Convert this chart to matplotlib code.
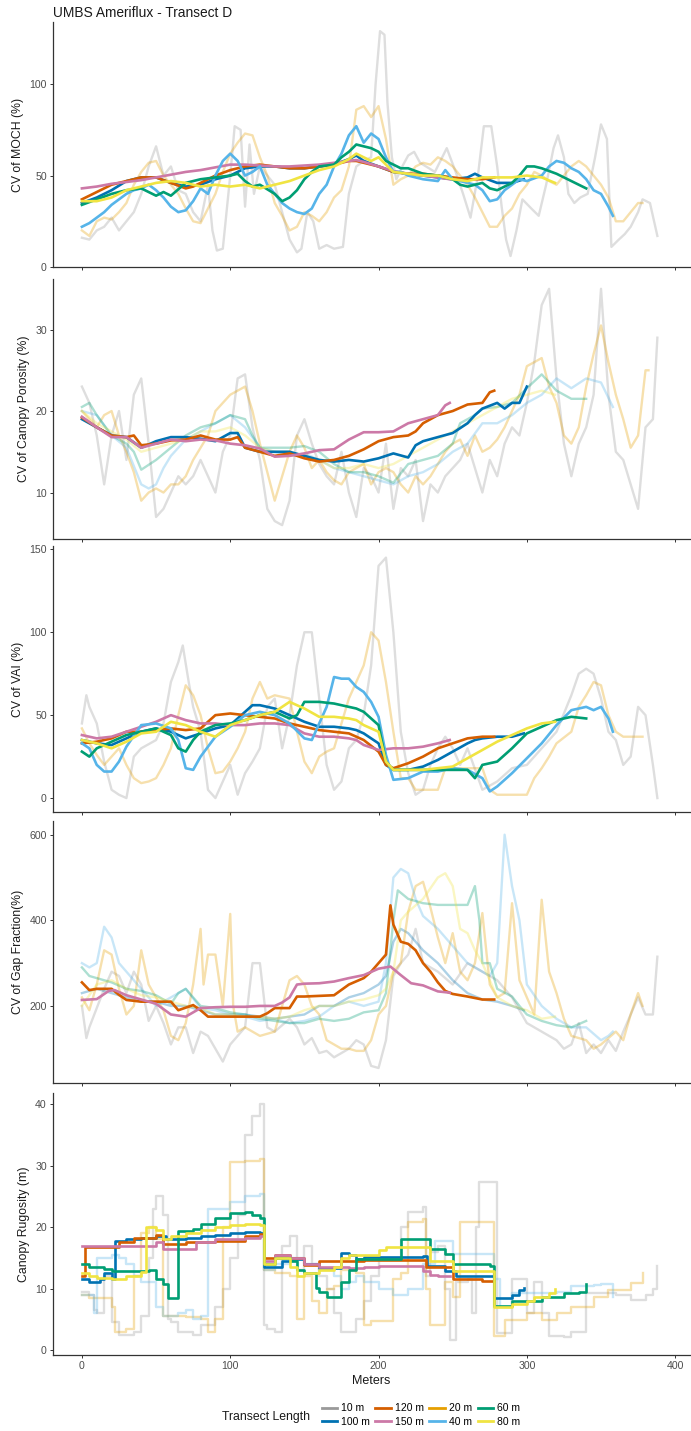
import numpy as np
import matplotlib.pyplot as plt
from matplotlib.lines import Line2D

plt.rcParams['font.family'] = ['Liberation Sans', 'DejaVu Sans']

# ---------------------------
# colours (Okabe-Ito) and legend order
# ---------------------------
LENGTHS = ["10 m", "100 m", "120 m", "150 m", "20 m", "40 m", "60 m", "80 m"]
COLORS = {
    "10 m": "#999999", "100 m": "#0072B2", "120 m": "#D55E00", "150 m": "#CC79A7",
    "20 m": "#E69F00", "40 m": "#56B4E9", "60 m": "#009E73", "80 m": "#F0E442",
}

# ---------------------------
# 1. CV of MOCH
# ---------------------------
moch_10 = [(0,16),(5,15),(10,20),(15,22),(20,27),(25,20),(30,25),(35,30),(40,40),(45,55),(50,66),(55,50),
           (60,55),(65,42),(70,40),(75,30),(80,25),(85,45),(88,20),(91,9),(95,10),(100,50),(103,77),(107,75),
           (110,33),(113,67),(116,40),(120,55),(125,50),(130,45),(135,30),(140,15),(145,8),(148,10),(152,30),
           (156,25),(160,10),(165,12),(170,10),(176,11),(180,40),(185,55),(190,58),(195,60),(198,100),(201,129),
           (204,127),(206,90),(209,60),(212,48),(216,55),(220,61),(224,63),(228,57),(232,55),(238,52),(246,65),
           (252,52),(257,40),(262,27),(267,50),(271,77),(276,77),(280,55),(283,33),(286,15),(289,6),(293,20),
           (297,37),(303,32),(308,28),(313,45),(318,65),(321,72),(325,60),(328,40),(332,35),(336,38),(341,40),
           (346,60),(350,78),(354,70),(357,11),(362,15),(366,18),(370,22),(375,30),(378,37),(383,35),(388,17)]
moch_20 = [(0,20),(5,17),(10,25),(15,27),(20,26),(25,30),(30,35),(35,45),(40,52),(45,57),(50,58),(55,50),
           (60,45),(65,40),(70,32),(75,25),(80,24),(85,32),(90,40),(95,52),(100,62),(105,68),(110,73),(115,72),
           (120,60),(125,50),(130,35),(135,28),(140,20),(145,22),(150,30),(155,28),(160,25),(165,30),(170,38),
           (175,42),(180,55),(185,86),(190,88),(195,82),(200,88),(205,70),(210,45),(215,48),(220,50),(225,55),
           (230,57),(235,56),(240,60),(245,58),(250,55),(255,50),(260,45),(265,38),(270,30),(275,22),(280,22),
           (285,28),(290,32),(295,40),(300,45),(305,52),(310,50),(315,47),(320,45),(325,50),(330,55),(335,58),
           (340,55),(345,50),(350,45),(355,38),(360,25),(365,25),(370,30),(375,35),(378,35)]
moch_40 = [(0,22),(5,24),(10,27),(15,30),(20,34),(25,37),(30,40),(35,42),(40,43),(45,45),(50,42),(55,38),
           (60,33),(65,30),(70,31),(75,36),(80,43),(85,40),(90,50),(95,58),(100,62),(105,58),(110,50),(115,52),
           (120,55),(125,45),(130,40),(135,35),(140,32),(145,30),(150,29),(155,32),(160,40),(165,45),(170,55),
           (175,62),(180,72),(185,77),(190,68),(195,73),(200,70),(205,60),(210,52),(215,52),(220,50),(230,48),
           (240,47),(245,53),(250,48),(260,46),(265,45),(270,42),(275,36),(280,37),(285,42),(290,45),(295,48),
           (300,47),(310,50),(315,55),(320,58),(325,57),(330,54),(335,52),(340,48),(345,42),(350,40),(355,33),
           (358,28)]
moch_60 = [(0,34),(10,37),(20,40),(30,42),(40,43),(45,41),(50,39),(55,41),(60,39),(70,46),(80,48),(90,49),
           (100,50),(105,51),(110,47),(115,44),(120,45),(130,40),(135,36),(140,38),(145,42),(150,48),(155,52),
           (160,55),(170,56),(175,60),(180,63),(185,67),(190,66),(195,65),(200,63),(205,58),(210,56),(215,54),
           (220,54),(230,51),(240,50),(250,48),(255,45),(260,44),(270,46),(275,43),(280,42),(285,44),(290,46),
           (295,50),(300,55),(305,55),(310,54),(320,51),(330,47),(340,43)]
moch_80 = [(0,36),(10,36),(20,38),(30,42),(40,44),(50,46),(60,47),(70,46),(80,44),(90,45),(100,44),(110,45),
           (120,43),(130,45),(140,47),(150,50),(160,53),(170,55),(180,59),(185,62),(190,60),(195,58),(200,60),
           (205,56),(210,52),(220,51),(230,50),(240,50),(250,48),(260,47),(270,49),(280,49),(290,49),(300,50),
           (310,49),(319,46)]
moch_100 = [(0,35),(10,38),(20,42),(30,47),(40,49),(50,49),(60,46),(70,44),(80,45),(90,48),(100,50),(110,54),
            (120,55),(130,55),(140,54),(150,54),(160,55),(170,56),(180,59),(185,61),(190,58),(200,55),(210,52),
            (220,51),(230,50),(240,49),(250,48),(260,49),(265,51),(270,49),(280,46),(290,46),(298,48)]
moch_120 = [(0,37),(10,41),(20,45),(30,47),(40,49),(50,49),(60,46),(70,43),(75,44),(80,46),(90,50),(100,53),
            (110,55),(120,56),(130,55),(140,54),(150,54),(160,55),(170,56),(180,58),(185,58),(190,57),(200,55),
            (210,52),(220,51),(230,51),(240,50),(250,49),(260,48),(270,48),(278,49)]
moch_150 = [(0,43),(10,44),(20,45.5),(30,46.5),(40,47.5),(50,49),(60,50.5),(70,52),(80,53),(90,54.5),(100,56),
            (110,56),(120,55.5),(130,55),(140,55),(150,55.5),(160,56),(170,57),(180,58),(185,58.5),(190,57.5),
            (200,55),(210,52.5),(220,51),(230,50),(240,49),(248,48)]

# ---------------------------
# 2. CV of Canopy Porosity
# ---------------------------
poro_10 = [(0,23),(5,21),(10,17),(15,11),(20,17),(25,20),(30,14),(35,22),(40,24),(45,16),(50,7),(55,8),(60,10),
           (65,12),(70,11),(75,12),(80,14),(85,12),(90,10),(95,15),(100,17),(105,24),(110,24.5),(115,18),(120,14),
           (125,8),(130,6.5),(135,6),(140,9),(145,17),(150,19),(155,16),(160,13.5),(165,12),(170,11),(175,15),
           (180,10),(185,7),(190,13),(195,12),(200,10),(205,16),(210,8),(215,13),(220,12),(225,14),(230,6.5),
           (235,11),(240,10),(245,12),(250,13),(255,14),(260,16),(265,13),(270,10),(275,14),(280,12),(285,16),
           (290,18),(295,17),(300,21),(305,26),(310,33),(315,35),(320,24),(325,16),(330,12),(335,16),(340,18),
           (345,22),(350,35),(355,22),(360,15),(365,14),(370,11),(375,8),(380,18),(385,19),(388,29)]
poro_20 = [(0,20),(5,19),(10,18),(15,19.5),(20,20),(25,17),(30,15),(35,12.5),(40,9),(45,10),(50,10.5),(55,10),
           (60,11),(65,11),(70,12),(75,14),(80,15.5),(85,17),(90,20),(95,21),(100,22),(105,22.5),(110,23),(115,20),
           (120,16),(125,12.5),(130,9),(135,12),(140,15),(145,17),(150,15.5),(155,13),(160,14),(165,12.5),(170,11.5),
           (175,11),(180,12.5),(185,13),(190,13.5),(195,11),(200,12.5),(205,13),(210,12.5),(215,11),(220,10),
           (225,12),(230,11),(235,12),(240,13.5),(245,15),(250,16),(255,16.5),(260,14.5),(265,17),(270,15),
           (275,15.5),(280,16.5),(285,18),(290,20),(295,22),(300,25.5),(305,26),(310,26.5),(315,23),(320,21),
           (325,17),(330,16),(335,18),(340,23),(345,27),(350,30.5),(355,26),(360,22),(365,19),(370,15.5),(375,17),
           (380,25),(382,25)]
poro_40 = [(0,20),(10,19.5),(20,17),(30,15.5),(40,11),(45,10.5),(50,11),(55,13),(60,14.5),(70,16.5),(80,17.5),
           (90,18.5),(100,19.5),(110,18),(120,15.5),(130,15),(140,14.5),(150,14.8),(160,14),(170,13),(180,12.5),
           (190,12),(200,11.5),(210,11),(220,12),(230,12.5),(240,13.5),(250,15),(260,16),(270,18.5),(280,18.5),
           (290,19.5),(300,21),(310,22),(320,24),(330,22.8),(340,24),(350,23.5),(358,20.5)]
poro_60 = [(0,20.5),(5,21),(10,19.5),(20,17),(30,16),(35,15),(40,12.8),(50,14),(60,15.5),(70,17),(80,18),
           (90,18.5),(100,19.5),(110,19),(115,17),(120,15.5),(130,15.5),(140,15.5),(150,15.7),(160,15),(170,13.5),
           (180,12.5),(190,12.5),(200,12),(210,11.2),(220,13.5),(230,14),(240,14.5),(250,16),(255,18.5),(265,19.5),
           (270,20.3),(280,20.5),(290,21),(300,22.8),(310,24.5),(315,23.5),(320,22.5),(330,21.5),(340,21.5)]
poro_80 = [(0,20),(10,18.5),(20,17.5),(30,16.5),(40,15),(50,15.5),(60,16),(70,16.5),(80,17.5),(90,17.5),
           (100,18),(110,17),(120,15.5),(130,15),(140,15),(150,14.5),(160,14),(170,13),(180,13),(190,13.5),
           (200,13),(210,13.5),(220,14.5),(230,15.5),(240,16.5),(250,17.5),(260,18.5),(270,19.5),(280,20.5),
           (290,21.5),(300,22),(310,22.5),(319,22)]
poro_100 = [(0,19),(10,18),(20,17),(30,16.8),(40,15.5),(50,16.3),(60,16.8),(70,16.8),(80,16.6),(90,16.3),
            (100,17.3),(105,17.3),(110,15.5),(120,15),(130,15),(140,15),(150,14.5),(160,14),(170,13.8),(180,14),
            (190,13.8),(200,14.2),(210,14.8),(220,14.3),(225,15.8),(230,16.3),(240,16.8),(250,17.3),(260,18.5),
            (265,19.5),(270,20.3),(280,21),(285,20.3),(290,21),(295,21),(300,23)]
poro_120 = [(0,19.2),(10,18),(20,17),(30,16.8),(35,17),(40,15.8),(50,16),(60,16.4),(70,16.5),(80,17),(90,16.5),
            (100,16.5),(105,16.8),(110,15.5),(120,15),(130,14.5),(140,14.8),(150,14.2),(160,13.8),(170,14),
            (180,14.5),(190,15.3),(200,16.3),(210,16.8),(220,17),(225,17.5),(230,18.5),(240,19.5),(250,20),
            (260,20.8),(270,21),(275,22.3),(278,22.5)]
poro_150 = [(0,19.3),(10,18),(20,16.8),(30,16.8),(40,15.5),(50,16),(60,16.5),(70,16.3),(80,16.5),(90,16.4),
            (100,16),(110,15.8),(120,15.4),(130,14.4),(140,14.5),(150,14.8),(160,15.2),(170,15.3),(180,16.5),
            (190,17.4),(200,17.4),(210,17.5),(220,18.5),(230,19),(240,19.5),(245,20.7),(248,21)]

# ---------------------------
# 3. CV of VAI
# ---------------------------
vai_10 = [(0,45),(3,62),(5,55),(10,45),(15,22),(20,5),(25,2),(30,0),(35,25),(40,30),(50,35),(55,45),(60,70),
          (65,82),(68,92),(72,70),(75,55),(80,40),(85,5),(90,0),(95,10),(100,20),(105,2),(110,15),(115,22),
          (120,30),(125,55),(130,60),(135,30),(140,50),(145,80),(150,100),(155,100),(160,60),(165,20),(170,5),
          (175,10),(180,30),(185,35),(190,50),(195,80),(200,140),(205,145),(210,100),(215,40),(220,15),(225,2),
          (230,5),(235,20),(240,30),(245,37),(250,30),(255,20),(260,30),(270,5),(280,10),(290,18),(300,20),
          (310,30),(320,40),(330,62),(335,75),(340,78),(345,75),(350,60),(355,40),(360,35),(365,20),(370,25),
          (375,55),(380,50),(385,20),(388,0)]
vai_20 = [(0,42),(5,33),(10,26),(15,20),(20,25),(25,30),(30,20),(35,12),(40,9),(45,10),(50,12),(55,20),(60,30),
          (65,50),(70,68),(75,62),(80,50),(85,30),(90,15),(95,16),(100,22),(105,30),(110,40),(115,60),(120,70),
          (125,60),(130,62),(140,60),(145,40),(150,22),(155,15),(160,25),(165,28),(170,30),(175,45),(180,60),
          (190,80),(195,100),(200,95),(205,70),(210,40),(215,12),(220,12),(225,5),(230,5),(240,5),(245,18),
          (250,18),(260,18),(270,18),(275,5),(280,2),(290,2),(300,2),(305,12),(310,18),(315,25),(320,33),(330,40),
          (335,55),(340,62),(345,70),(350,68),(355,50),(360,40),(365,37),(370,37),(378,37)]
vai_40 = [(0,33),(5,30),(10,20),(15,16),(20,16),(25,22),(30,31),(40,44),(50,45),(60,42),(65,35),(70,18),(75,17),
          (80,25),(90,37),(100,43),(110,50),(120,52),(130,50),(140,45),(150,36),(155,35),(160,45),(165,55),(170,73),
          (175,72),(180,72),(185,67),(190,64),(195,58),(200,49),(205,26),(210,11),(220,12),(230,16),(240,16),
          (250,18),(260,17),(270,12),(275,4),(280,7),(290,15),(300,24),(310,33),(320,44),(330,53),(340,55),
          (345,53),(350,55),(355,48),(358,40)]
vai_60 = [(0,28),(5,25),(10,30),(20,34),(30,38),(40,40),(50,42),(60,38),(65,30),(70,28),(75,35),(80,40),(90,44),
          (100,45),(110,47),(120,50),(130,52),(140,48),(145,50),(150,58),(160,58),(170,57),(180,55),(185,54),
          (190,52),(200,44),(205,22),(210,17),(220,17),(230,17),(240,17),(250,17),(260,17),(265,12),(270,20),
          (280,22),(290,30),(300,39),(310,43),(320,47),(330,49),(340,48)]
vai_80 = [(0,35),(10,33),(20,30),(30,34),(40,39),(50,40),(60,46),(70,44),(80,40),(90,37),(100,44),(110,47),
          (120,50),(130,52),(140,58),(150,54),(160,49),(170,49),(180,48),(185,47),(190,44),(200,40),(205,22),
          (210,17),(220,17),(230,17),(240,18),(250,19),(260,24),(270,29),(280,34),(290,38),(300,42),(310,45),
          (319,46)]
vai_100 = [(0,35),(10,33),(20,32),(30,36),(40,40),(50,42),(60,40),(70,36),(80,39),(90,42),(100,44),(110,52),
           (115,56),(120,56),(130,54),(140,50),(150,46),(160,43),(170,43),(180,42),(185,41),(190,39),(200,33),
           (205,20),(210,17),(220,17),(230,19),(240,23),(250,28),(260,33),(265,35),(270,36),(280,37),(290,37),
           (298,39)]
vai_120 = [(0,33),(10,34),(20,36),(30,40),(40,40),(50,41),(60,42),(70,41),(80,42),(90,50),(100,51),(110,50),
           (120,49),(130,48),(140,45),(150,43),(160,41),(170,40),(180,39),(190,35),(200,28),(205,20),(210,18),
           (220,21),(230,25),(240,30),(250,33),(260,36),(270,37),(278,37)]
vai_150 = [(0,38),(10,36),(20,37),(30,40),(40,43),(50,46),(60,50),(70,47),(80,45),(90,45),(100,44),(110,44),
           (120,45),(130,45),(140,44),(150,39),(160,37),(170,37),(180,36),(185,35),(190,32),(200,29),(210,30),
           (220,30),(230,31),(240,33),(248,35)]

# ---------------------------
# 4. CV of Gap Fraction
# ---------------------------
gap_10 = [(0,200),(3,125),(5,150),(10,195),(15,240),(20,280),(25,270),(30,230),(35,280),(40,250),(45,165),
          (50,200),(55,160),(60,110),(65,150),(70,150),(75,90),(80,140),(85,130),(90,100),(95,70),(100,110),
          (105,130),(110,150),(115,300),(120,300),(125,150),(130,140),(140,170),(145,150),(150,110),(155,125),
          (160,90),(165,95),(170,80),(180,100),(185,120),(190,110),(195,60),(200,55),(205,120),(210,270),
          (215,300),(220,320),(225,380),(230,300),(240,280),(250,250),(260,300),(270,280),(280,260),(290,220),
          (300,160),(310,140),(320,120),(325,100),(330,110),(335,160),(340,90),(345,110),(350,90),(355,120),
          (360,95),(365,140),(370,180),(375,220),(380,180),(385,180),(388,315)]
gap_20 = [(0,220),(5,190),(10,250),(15,330),(20,320),(25,240),(30,180),(35,200),(40,330),(45,250),(50,220),
          (55,190),(60,130),(65,120),(70,160),(75,250),(80,380),(82,250),(85,320),(90,320),(95,200),(100,415),
          (102,200),(105,140),(110,150),(120,130),(130,140),(140,260),(145,270),(150,250),(155,200),(160,180),
          (165,120),(170,110),(175,100),(180,100),(185,95),(190,95),(195,120),(200,180),(205,200),(210,280),
          (215,300),(220,420),(225,480),(230,490),(235,430),(240,360),(245,300),(250,370),(255,280),(260,260),
          (265,300),(270,417),(275,250),(280,220),(285,230),(290,440),(295,260),(300,220),(305,180),(310,448),
          (315,280),(320,230),(325,170),(330,130),(340,120),(345,100),(350,110),(360,140),(365,120),(370,180),
          (375,230),(378,200)]
gap_40 = [(0,300),(5,290),(10,300),(15,385),(20,360),(25,300),(30,280),(40,240),(50,200),(60,220),(70,240),
          (80,195),(90,190),(100,180),(110,175),(120,165),(130,170),(140,160),(150,165),(160,175),(170,200),
          (180,210),(190,200),(200,210),(205,300),(210,500),(215,520),(220,510),(225,450),(230,410),(240,380),
          (250,340),(260,300),(270,280),(275,270),(280,300),(285,600),(290,480),(295,400),(300,250),(310,200),
          (320,170),(330,150),(340,150),(350,120),(355,130),(358,140)]
gap_60 = [(0,290),(5,270),(10,265),(20,255),(30,240),(40,235),(50,225),(55,215),(60,205),(65,230),(70,240),
          (75,220),(80,200),(90,195),(100,185),(110,180),(120,170),(130,165),(140,160),(150,160),(160,170),
          (170,165),(180,170),(190,185),(200,190),(205,230),(210,400),(213,470),(220,450),(230,440),(240,436),
          (250,436),(260,436),(265,480),(268,400),(270,300),(275,300),(280,240),(290,222),(295,200),(300,180),
          (310,165),(320,155),(330,150),(340,165)]
gap_80 = [(0,200),(10,250),(20,260),(30,240),(40,225),(50,220),(60,210),(70,200),(80,195),(90,180),(100,180),
          (110,175),(120,175),(130,170),(140,175),(150,190),(160,200),(170,200),(180,210),(190,215),(200,225),
          (205,240),(210,280),(215,400),(220,420),(230,450),(240,500),(245,510),(250,480),(255,380),(260,370),
          (265,330),(270,300),(280,220),(290,200),(300,190),(310,170),(319,175)]
gap_100 = [(0,230),(10,240),(20,230),(30,220),(40,210),(50,210),(60,200),(70,200),(80,190),(90,180),(100,180),
           (110,180),(120,175),(130,170),(140,175),(150,180),(160,200),(170,200),(180,220),(190,230),(200,250),
           (205,270),(210,350),(215,380),(220,370),(230,330),(240,300),(250,260),(260,230),(270,215),(280,210),
           (290,200),(298,190)]
gap_120 = [(0,255),(5,237),(10,240),(20,240),(25,226),(30,214),(40,210),(60,210),(65,190),(75,202),(80,190),
           (85,175),(95,175),(110,175),(120,175),(125,183),(130,195),(140,195),(145,222),(150,222),(170,225),
           (180,250),(190,265),(195,280),(200,300),(205,320),(208,435),(210,390),(215,350),(220,345),(225,330),
           (230,300),(235,280),(240,255),(245,235),(250,228),(260,222),(270,215),(278,215)]
gap_150 = [(0,214),(10,216),(18,235),(22,237),(30,225),(40,215),(50,205),(60,180),(70,175),(80,195),(90,197),
           (100,198),(110,198),(120,200),(130,200),(135,208),(140,220),(145,250),(150,252),(160,253),(170,257),
           (180,265),(190,272),(200,287),(208,292),(215,272),(222,253),(230,248),(240,234),(248,231)]

# ---------------------------
# 5. Canopy Rugosity (step-like)
# ---------------------------
rug_10 = [(0,9.5),(5,9),(8,6.5),(10,6),(15,12),(20,4.5),(25,2.5),(30,2.5),(35,3),(40,5.5),(45,15),(48,23),
          (50,25),(55,22),(58,5),(60,4.5),(65,3),(70,3),(75,2.5),(80,4),(85,4),(90,7),(95,10),(100,15),(105,22),
          (110,35),(115,38),(120,40),(123,4),(125,3.5),(130,3),(135,17),(140,18.5),(145,13),(150,17),(155,14),
          (160,12),(165,10),(170,6),(175,3),(180,3),(185,5),(190,8),(195,12),(200,15),(210,15),(215,20),
          (220,22.5),(230,23.2),(232,12),(235,16),(240,17),(245,10),(248,1.6),(252,11),(260,11.5),(263,6),
          (266,20),(268,27.3),(278,27.3),(280,2.7),(285,2.7),(290,11.5),(297,11.5),(300,6),(305,11),(310,6),
          (315,2.3),(325,2.2),(330,3),(340,9.3),(350,9.3),(360,9),(370,8.2),(380,9),(385,10),(388,13.7)]
rug_20 = [(0,9),(5,8.5),(15,8.5),(20,7),(22,3),(30,3.5),(35,12),(40,19),(45,20),(50,18),(55,5.5),(60,5.5),
          (70,5.3),(80,5),(85,3),(90,5),(95,20),(100,30.5),(110,30.8),(120,31),(123,13),(130,12.5),(140,12),
          (145,5),(150,12),(155,8),(160,6),(165,10),(170,10.4),(175,13),(185,12.5),(190,4),(195,4.8),(205,4.8),
          (210,11.5),(215,12.6),(220,20.8),(230,21.3),(232,10),(235,4),(245,11),(250,8.7),(255,20.8),(275,20.8),
          (278,2.3),(285,4.9),(300,6),(310,4.9),(320,6),(330,7),(345,8.7),(355,9.8),(370,10.9),(378,12.6)]
rug_40 = [(0,9),(5,9),(8,6),(10,15),(20,15.5),(25,15),(30,14),(35,12),(40,11),(45,11),(50,7),(55,5.5),(60,5.5),
          (65,6),(70,6.5),(75,5),(80,5.5),(85,23),(95,23),(100,24),(110,25),(120,25.3),(123,13),(130,14),
          (140,15),(150,14),(160,13),(170,12),(175,10),(180,11),(185,12),(190,11),(200,10),(210,9),(220,10),
          (230,14),(238,17.8),(248,17.8),(250,15.6),(275,15.6),(278,11.5),(282,7),(290,9.3),(300,9.3),(320,9.5),
          (330,10.4),(345,10.6),(350,10.7),(358,8.7)]
rug_60 = [(0,14),(5,13.5),(15,13.2),(20,12.8),(35,12.8),(45,13),(50,11.5),(55,10.8),(58,8.4),(65,19.3),
          (75,19.7),(80,20.5),(90,21.5),(100,22.3),(110,22.5),(115,22),(120,21.5),(123,14),(130,15),(140,14.5),
          (145,13),(150,12.5),(158,10.1),(160,9.5),(165,8.6),(170,8.7),(175,11),(180,13),(185,14.8),(210,14.8),
          (215,18),(230,18),(235,16.4),(245,15.6),(250,14),(275,13.7),(278,7.2),(290,8),(310,8.7),(325,9.3),
          (335,9.5),(340,10.8)]
rug_80 = [(0,12.5),(5,12),(10,11.8),(20,11.5),(25,11.5),(30,12),(40,12.7),(43,20),(50,19.5),(55,18),(60,18.5),
          (70,19),(80,19.5),(90,20),(100,20.3),(110,20.5),(120,20.3),(123,14),(130,15),(140,13.5),(145,12),
          (150,12.5),(160,13),(170,13.5),(175,15),(180,15.5),(190,15.5),(200,16.2),(205,16.7),(230,16.7),
          (235,14.5),(250,12.8),(275,12.8),(278,7),(290,7.5),(300,8),(305,8.7),(315,9.3),(319,10)]
rug_100 = [(0,11.5),(5,11),(12,11.5),(15,12.5),(20,11.5),(22,17.8),(30,18),(40,18.3),(50,18.6),(55,18.5),
           (57,18),(70,18.3),(80,18.5),(90,18.7),(100,19),(110,19.2),(120,19),(123,13.5),(135,14.5),(140,14.8),
           (150,14),(160,13.3),(170,13.3),(175,15.8),(180,15.5),(185,14.8),(190,15.2),(230,15.3),(233,13.7),
           (245,12.8),(252,12),(275,12),(278,8.5),(290,9),(295,9.8),(298,10.1)]
rug_120 = [(0,12),(2,16.8),(20,16.8),(25,17.5),(35,18.3),(50,18.7),(55,17.3),(70,17.5),(90,17.8),(110,18.5),
           (120,18.8),(123,15),(130,15.5),(140,15),(150,13.8),(160,14.5),(170,14.5),(190,14.6),(230,14.6),
           (232,13.5),(250,11.5),(270,11.3),(278,11)]
rug_150 = [(0,17),(50,17.5),(55,16.5),(77,17.5),(90,18),(100,18),(110,18.3),(120,18.5),(123,14.5),(130,15.5),
           (140,15),(150,14),(160,13.5),(170,13.5),(180,13.3),(190,13.5),(200,13.7),(220,13.7),(230,12.8),
           (235,12.2),(240,12),(248,12)]

YLABELS = ["CV of MOCH (%)", "CV of Canopy Porosity (%)", "CV of VAI (%)",
           "CV of Gap Fraction(%)", "Canopy Rugosity (m)"]
YTICKS = [[0, 50, 100], [10, 20, 30], [0, 50, 100, 150], [200, 400, 600], [0, 10, 20, 30, 40]]
YLIMS = [(0, 134), (4.3, 36.2), (-8.4, 152), (20, 632), (-0.8, 41.8)]
XTICKS = [0, 100, 200, 300, 400]

PANELS = [
    dict(zip(LENGTHS, [moch_10, moch_100, moch_120, moch_150, moch_20, moch_40, moch_60, moch_80])),
    dict(zip(LENGTHS, [poro_10, poro_100, poro_120, poro_150, poro_20, poro_40, poro_60, poro_80])),
    dict(zip(LENGTHS, [vai_10, vai_100, vai_120, vai_150, vai_20, vai_40, vai_60, vai_80])),
    dict(zip(LENGTHS, [gap_10, gap_100, gap_120, gap_150, gap_20, gap_40, gap_60, gap_80])),
    dict(zip(LENGTHS, [rug_10, rug_100, rug_120, rug_150, rug_20, rug_40, rug_60, rug_80])),
]
# which transect lengths are drawn faded in each panel
FADED = [
    {"10 m", "20 m"},
    {"10 m", "20 m", "40 m", "60 m", "80 m"},
    {"10 m", "20 m"},
    {"10 m", "20 m", "40 m", "60 m", "80 m", "100 m"},
    {"10 m", "20 m", "40 m"},
]

# axes boxes in pixels (top, bottom) of a 691 x 1431 figure
W, H = 691, 1431
BOXES = [(22, 267), (279, 539), (546, 812), (821, 1083), (1093, 1355)]
LEFT, RIGHT = 53, 690

fig = plt.figure(figsize=(W / 100, H / 100), dpi=100)

axes = []
for i, (top, bot) in enumerate(BOXES):
    ax = fig.add_axes([LEFT / W, 1 - bot / H, (RIGHT - LEFT) / W, (bot - top) / H])
    axes.append(ax)
    series = PANELS[i]
    step = "steps-post" if i == 4 else "default"

    # faded first, then solid lines in factor order
    for name in LENGTHS:
        if name in FADED[i]:
            x, y = np.array(series[name]).T
            ax.plot(x, y, color=COLORS[name], alpha=0.32, lw=1.7, drawstyle=step,
                    solid_joinstyle="round")
    for name in LENGTHS:
        if name not in FADED[i]:
            x, y = np.array(series[name]).T
            ax.plot(x, y, color=COLORS[name], lw=1.9, drawstyle=step,
                    solid_joinstyle="round")

    ax.set_xlim(-19.5, 410)
    ax.set_ylim(*YLIMS[i])
    ax.set_xticks(XTICKS)
    ax.set_yticks(YTICKS[i])
    ax.set_ylabel(YLABELS[i], fontsize=8.8, color="#1a1a1a", labelpad=4)
    for side in ["top", "right"]:
        ax.spines[side].set_visible(False)
    for side in ["left", "bottom"]:
        ax.spines[side].set_color("#333333")
        ax.spines[side].set_linewidth(0.9)
    ax.tick_params(axis="both", colors="#333333", labelcolor="#4d4d4d",
                   labelsize=7.6, length=2.5, width=0.7, pad=2)
    if i < 4:
        ax.tick_params(axis="x", labelbottom=False)

axes[-1].set_xlabel("Meters", fontsize=9, color="#1a1a1a", labelpad=3)

fig.text(LEFT / W, 1 - 13 / H, "UMBS Ameriflux - Transect D", fontsize=9.9,
         color="#1a1a1a", ha="left", va="center")

# ---------------------------
# legend
# ---------------------------
handles = [Line2D([0], [0], color=COLORS[n], lw=2) for n in LENGTHS]
fig.legend(handles, LENGTHS, ncol=4, loc="center", bbox_to_anchor=(421 / W, 1 - 1415 / H),
           frameon=False, fontsize=7.5, handlelength=1.5, handletextpad=0.4,
           columnspacing=0.5, labelspacing=0.3)
fig.text(266 / W, 1 - 1417 / H, "Transect Length", fontsize=8.8, color="#1a1a1a",
         ha="center", va="center")

fig.savefig("out.png", dpi=100)
